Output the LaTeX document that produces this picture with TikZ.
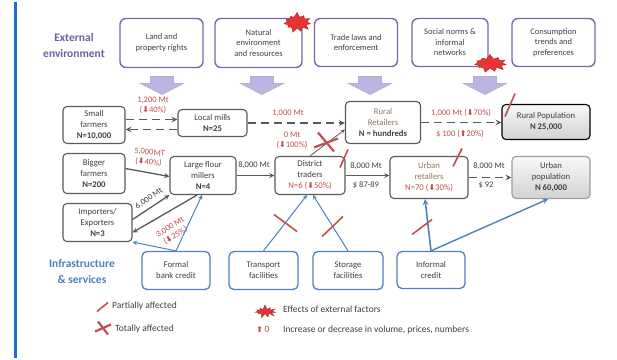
\documentclass[tikz,border=0pt]{standalone}
\usepackage{fontspec}
\setmainfont{Carlito}
\newfontfamily\arrowfont{DejaVu Sans}
\usetikzlibrary{shapes.symbols,backgrounds}
\definecolor{envpurple}{RGB}{121,103,178}
\definecolor{envarrowfill}{RGB}{190,180,228}
\definecolor{headpurple}{RGB}{105,98,158}
\definecolor{actorgray}{RGB}{90,90,90}
\definecolor{textgray}{RGB}{64,64,64}
\definecolor{retailbrown}{RGB}{150,118,88}
\definecolor{cutred}{RGB}{192,80,77}
\definecolor{servblue}{RGB}{79,129,189}
\definecolor{barblue}{RGB}{30,110,200}
\definecolor{burstred}{RGB}{228,52,52}
\newcommand{\downmark}{{\arrowfont\bfseries\footnotesize ⬇}}
\newcommand{\upmark}{{\arrowfont\bfseries\footnotesize ⬆}}

\begin{document}
\begin{tikzpicture}[x=1pt, y=-1pt, >=stealth,
  envbox/.style={draw=envpurple, line width=1.4pt, rounded corners=6pt, fill=white,
    align=center, text=textgray, inner sep=1pt, font=\fontsize{8.5}{10.5}\selectfont},
  actorbox/.style={draw=actorgray, line width=1.1pt, rounded corners=4pt, fill=white,
    align=center, text=textgray, inner sep=1pt, font=\fontsize{8.7}{11}\selectfont},
  popbox/.style={actorbox, top color=gray!6, bottom color=gray!35},
  servbox/.style={draw=servblue, line width=1.3pt, rounded corners=5pt, fill=white,
    align=center, text=textgray, inner sep=1pt, font=\fontsize{8.7}{11}\selectfont},
  heading/.style={align=center, font=\fontsize{11.5}{16}\selectfont\bfseries},
  flowlab/.style={align=center, text=cutred, inner sep=0pt, font=\fontsize{8.5}{10}\selectfont},
  graylab/.style={flowlab, text=textgray},
  legendtext/.style={text=textgray, inner sep=0pt, font=\fontsize{9.5}{11}\selectfont},
  goods/.style={->, draw=actorgray, line width=1.3pt},
  dashgoods/.style={goods, line width=1.6pt, dash pattern=on 8pt off 5pt},
  support/.style={->, draw=servblue, line width=1pt},
  envarrow/.style={fill=envarrowfill, draw=envpurple!55, line width=0.6pt},
  cut/.style={draw=cutred, line width=1.6pt},
  burst/.style={starburst, starburst points=11, starburst point height=5pt,
    random starburst=7, fill=burstred, draw=burstred!75!black, line width=0.4pt, inner sep=0pt}
]
\path[fill=white] (0,0) rectangle (617,356);
\draw[barblue, line width=3pt] (15,0) -- (15,356);

% external environment
\node[heading, text=headpurple] (ext) at (74,44) {External\\environment};
\node[envbox, minimum width=83pt, minimum height=49pt] (land) at (161.5,41.5) {Land and\\property rights};
\node[envbox, minimum width=87pt, minimum height=49pt] (natural) at (258.5,41.5) {Natural\\environment\\and resources};
\node[envbox, minimum width=83pt, minimum height=48pt] (trade) at (356,41) {Trade laws and\\enforcement};
\node[envbox, minimum width=76pt, minimum height=48pt] (social) at (450,41) {Social norms \&\\informal\\networks};
\node[envbox, minimum width=83pt, minimum height=48pt] (consum) at (553.5,41) {Consumption\\trends and\\preferences};
\node[burst, minimum width=30pt, minimum height=21pt] (shock1) at (297,21) {};
\node[burst, minimum width=35pt, minimum height=19pt] (shock2) at (490,62) {};
\foreach \ax in {162,262,370,485}
  \filldraw[envarrow] (\ax-11.5,75) -- (\ax+11.5,75) -- (\ax+11.5,82) -- (\ax+21.5,82)
    -- (\ax,93) -- (\ax-21.5,82) -- (\ax-11.5,82) -- cycle;

% value chain actors
\node[actorbox, minimum width=62pt, minimum height=37pt] (small) at (94,123.5) {Small\\farmers\\\textbf{N=10,000}};
\node[actorbox, minimum width=69pt, minimum height=27pt] (local) at (212.5,121.5) {Local mills\\\textbf{N=25}};
\node[actorbox, minimum width=62pt, minimum height=40pt] (bigger) at (94,172) {Bigger\\farmers\\\textbf{N=200}};
\node[actorbox, minimum width=66pt, minimum height=38pt] (large) at (203,174) {Large flour\\millers\\\textbf{N=4}};
\node[actorbox, minimum width=69pt, minimum height=38pt] (impex) at (97.5,221) {Importers/\\Exporters\\\textbf{N=3}};
\node[actorbox, minimum width=70pt, minimum height=38pt] (district) at (310,174) {District\\traders\\\textcolor{cutred}{N=6 (\downmark50\%)}};
\node[actorbox, minimum width=75pt, minimum height=42pt] (rural) at (383,121) {\textcolor{retailbrown!70!gray}{Rural}\\\textcolor{retailbrown!70!gray}{Retailers}\\\textbf{N = hundreds}};
\node[actorbox, minimum width=78pt, minimum height=42pt] (urban) at (429,176) {\textcolor{retailbrown}{Urban}\\\textcolor{retailbrown}{retailers}\\\textcolor{cutred}{N=70 (\downmark30\%)}};
\node[popbox, draw=black, minimum width=88pt, minimum height=35pt] (ruralpop) at (546,120.5) {Rural Population\\\textbf{N 25,000}};
\node[popbox, draw=gray!75, minimum width=78pt, minimum height=42pt] (urbanpop) at (551,176) {Urban\\population\\\textbf{N 60,000}};

% flows of wheat and flour
\draw[dashgoods] ([yshift=5.5pt]small.east) -- ([yshift=3.5pt]local.west);
\draw[dashgoods] ([yshift=-6.5pt]local.west) -- ([yshift=-4.5pt]small.east);
\node[flowlab] (f1) at (153,104) {1,200 Mt\\(\downmark40\%)};
\draw[dashgoods] (local.east) -- (local.east -| rural.west);
\node[flowlab] (f2) at (288,112) {1,000 Mt};
\draw[goods] ([yshift=5pt]bigger.east) -- ([yshift=-1pt]large.west);
\node[flowlab, rotate=-6] (f3) at (149,156) {5,000MT\\(\downmark40\%)};
\draw[goods] ([yshift=3pt]impex.east) -- (large.south west);
\node[graylab, rotate=35] (f4) at (149,197) {6,000 Mt};
\draw[goods] ([xshift=-6pt]large.south) -- ([yshift=-10pt]impex.east);
\node[flowlab, rotate=32] (f5) at (173,230) {3,000 Mt\\(\downmark25\%)};
\draw[goods] (large.east) -- (large.east -| district.west);
\node[graylab] (f6) at (254,164) {8,000 Mt};
\draw[goods, line width=0.8pt] (district.north) -- ([yshift=-7pt]rural.west);
\node[flowlab] (f7) at (292,139) {0 Mt\\(\downmark100\%)};
\draw[goods] (district.east) -- (district.east -| urban.west);
\node[graylab] (f8) at (366,165) {8,000 Mt};
\node[graylab] (f9) at (366,184) {\$ 87-89};
\draw[dashgoods] (urban.east) -- (urban.east -| urbanpop.west);
\node[graylab] (f10) at (489,165) {8,000 Mt};
\node[graylab] (f11) at (486,184) {\$ 92};
\draw[dashgoods] (rural.east) -- (rural.east -| ruralpop.west);
\node[flowlab] (f12) at (461,111) {1,000 Mt (\downmark70\%)};
\node[flowlab] (f13) at (460,132) {\$ 100 (\upmark20\%)};

% infrastructure and services
\node[heading, text=servblue] (infra) at (82,270) {Infrastructure\\\& services};
\node[servbox, minimum width=68pt, minimum height=38pt] (formal) at (176,269) {Formal\\bank credit};
\node[servbox, minimum width=69pt, minimum height=38pt] (transport) at (263.5,269) {Transport\\facilities};
\node[servbox, minimum width=70pt, minimum height=38pt] (storage) at (348,269) {Storage\\facilities};
\node[servbox, minimum width=68pt, minimum height=37pt] (informal) at (431,268.5) {Informal\\credit};
\draw[support] (formal.north) -- ([xshift=-1pt]large.south);
\draw[support] (formal.north) -- (impex.south east);
\draw[support] (transport.north) -- ([xshift=-3pt]district.south);
\draw[support] (storage.north) -- ([xshift=3pt]district.south);
\draw[support, line width=1.6pt] (informal.north) -- ([xshift=-4pt]urban.south);
\draw[support, line width=1.4pt] (informal.north) -- ([xshift=-3pt]urbanpop.south);
\begin{pgfonlayer}{background}
\draw[support] (informal.north) -- ([xshift=4pt]rural.south);
\end{pgfonlayer}

% where the shocks hit
\draw[cut] (505,115) -- (515,92);
\draw[cut] (453,165) -- (462,147);
\draw[cut] (340,166) -- (348,148);
\draw[cut] (274,213) -- (297,230);
\draw[cut] (322,235) -- (343,215);
\draw[cut] (412,233) -- (432,218);
\draw[cut, line width=2.2pt] (318,131) -- (334,150);
\draw[cut, line width=2.2pt] (314,146) -- (338,137);

% legend
\draw[cut] (97,310) -- (108,301);
\node[legendtext, anchor=west] (lpart) at (112,304) {Partially affected};
\draw[cut, line width=2.2pt] (98,320) -- (108,333);
\draw[cut, line width=2.2pt] (95,330) -- (111,323);
\node[legendtext, anchor=west] (ltotal) at (115,327) {Totally affected};
\node[burst, minimum width=24pt, minimum height=14pt] (lshock) at (265,310) {};
\node[legendtext, anchor=west] (lext) at (283,308) {Effects of external factors};
\node[legendtext, text=cutred] (lmark) at (263,328) {\upmark\,0};
\node[legendtext, anchor=west] (linc) at (283,328) {Increase or decrease in volume, prices, numbers};
\end{tikzpicture}
\end{document}
